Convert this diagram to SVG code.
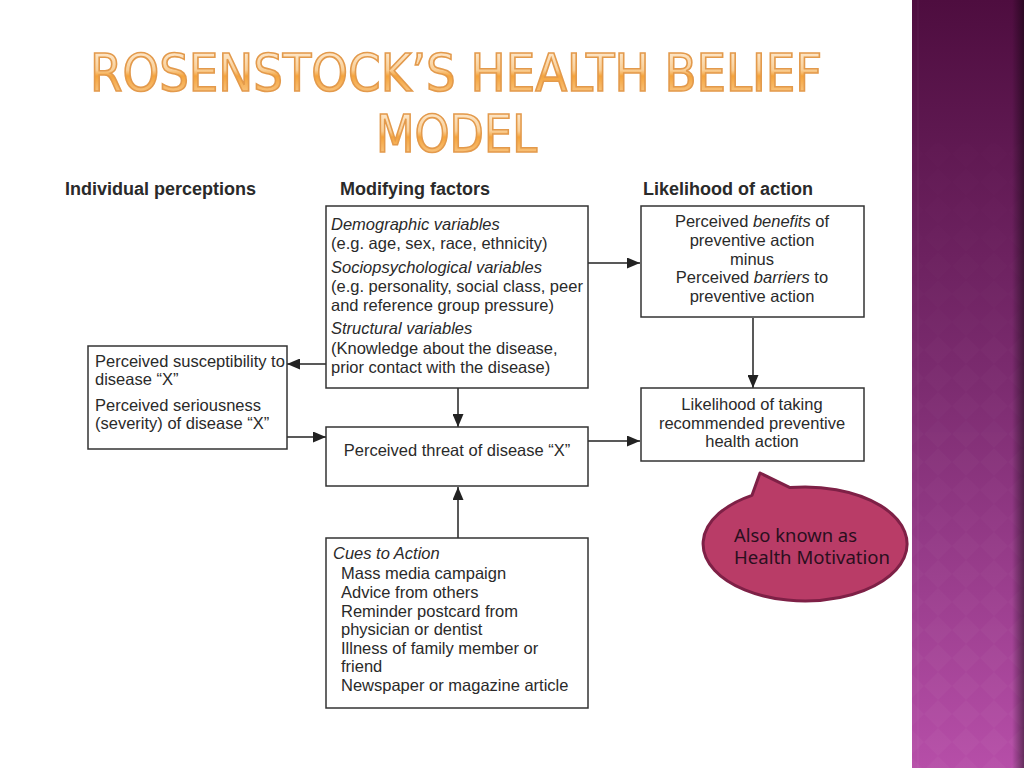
<svg xmlns="http://www.w3.org/2000/svg" width="1024" height="768" viewBox="0 0 1024 768">
<defs>
<linearGradient id="band" x1="0" y1="0" x2="0" y2="1">
<stop offset="0" stop-color="#4e0d3f"/>
<stop offset="0.5" stop-color="#7c2c70"/>
<stop offset="1" stop-color="#b64ea8"/>
</linearGradient>
<linearGradient id="shadow" x1="0" y1="0" x2="1" y2="0">
<stop offset="0" stop-color="#000" stop-opacity="0"/>
<stop offset="1" stop-color="#000" stop-opacity="0.45"/>
</linearGradient>
<linearGradient id="titleFill" x1="0" y1="0" x2="0" y2="1">
<stop offset="0" stop-color="#fff3e3"/>
<stop offset="0.45" stop-color="#f9cf97"/>
<stop offset="0.55" stop-color="#f5a43c"/>
<stop offset="1" stop-color="#fad7a8"/>
</linearGradient>
<pattern id="diamonds" width="28" height="28" patternUnits="userSpaceOnUse">
<path d="M14 0 L28 14 L14 28 L0 14 Z" fill="#ffffff" fill-opacity="0.03"/>
</pattern>
<linearGradient id="patFade" x1="0" y1="0" x2="0" y2="1">
<stop offset="0" stop-color="#fff" stop-opacity="0"/>
<stop offset="1" stop-color="#fff" stop-opacity="1"/>
</linearGradient>
<mask id="patMask"><rect x="912" y="0" width="112" height="768" fill="url(#patFade)"/></mask>
<marker id="arr" markerWidth="13" markerHeight="11" refX="13" refY="5.5" orient="auto" markerUnits="userSpaceOnUse">
<path d="M0 0 L13 5.5 L0 11 Z" fill="#222"/>
</marker>
<style>
.box{fill:#fff;stroke:#333;stroke-width:1.5}
.t{font-family:"Liberation Sans",Arial,sans-serif;font-size:16.5px;fill:#2a2a2a}
.i{font-style:italic}
.c{text-anchor:middle}
.h{font-family:"Liberation Sans",Arial,sans-serif;font-size:18px;font-weight:bold;fill:#2a2a2a}
.ln{stroke:#222;stroke-width:1.5;fill:none;marker-end:url(#arr)}
.title{font-family:"Liberation Sans Narrow","DejaVu Sans Condensed",sans-serif;font-size:52px;fill:url(#titleFill);stroke:#e39a4c;stroke-width:1.6}
.co{font-family:"Noto Sans","DejaVu Sans",sans-serif;font-size:17.5px;fill:#2a0f1e}
</style>
</defs>
<rect width="1024" height="768" fill="#fff"/>
<g id="sidebar">
<rect x="912" y="0" width="112" height="768" fill="url(#band)"/>
<rect x="912" y="0" width="112" height="768" fill="url(#diamonds)" mask="url(#patMask)"/>
<rect x="1012" y="0" width="12" height="768" fill="url(#shadow)"/>
<line x1="918" y1="0" x2="918" y2="768" stroke="#fff" stroke-opacity="0.06"/>
</g>
<g id="title">
<text class="title" x="90" y="91" textLength="732" lengthAdjust="spacingAndGlyphs">ROSENSTOCK’S HEALTH BELIEF</text>
<text class="title" x="376" y="152" textLength="161" lengthAdjust="spacingAndGlyphs">MODEL</text>
</g>
<g id="headers">
<text class="h" x="65" y="195">Individual perceptions</text>
<text class="h" x="340" y="195">Modifying factors</text>
<text class="h" x="643" y="195">Likelihood of action</text>
</g>
<g id="connectors">
<line class="ln" x1="588" y1="263" x2="640" y2="263"/>
<line class="ln" x1="753" y1="318" x2="753" y2="388"/>
<line class="ln" x1="326" y1="364" x2="287" y2="364"/>
<line class="ln" x1="458" y1="388" x2="458" y2="427"/>
<line class="ln" x1="287" y1="437" x2="326" y2="437"/>
<line class="ln" x1="588" y1="441" x2="640" y2="441"/>
<line class="ln" x1="458" y1="538" x2="458" y2="487"/>
</g>
<g id="modifying">
<rect class="box" x="326" y="206" width="262" height="182"/>
<text class="t i" x="331" y="230">Demographic variables</text>
<text class="t" x="331" y="249">(e.g. age, sex, race, ethnicity)</text>
<text class="t i" x="331" y="273">Sociopsychological variables</text>
<text class="t" x="331" y="292">(e.g. personality, social class, peer</text>
<text class="t" x="331" y="311">and reference group pressure)</text>
<text class="t i" x="331" y="334">Structural variables</text>
<text class="t" x="331" y="354">(Knowledge about the disease,</text>
<text class="t" x="331" y="373">prior contact with the disease)</text>
</g>
<g id="benefits">
<rect class="box" x="641" y="206" width="223" height="111"/>
<text class="t c" x="752" y="227">Perceived <tspan class="i">benefits</tspan> of</text>
<text class="t c" x="752" y="246">preventive action</text>
<text class="t c" x="752" y="265">minus</text>
<text class="t c" x="752" y="283">Perceived <tspan class="i">barriers</tspan> to</text>
<text class="t c" x="752" y="302">preventive action</text>
</g>
<g id="individual">
<rect class="box" x="88" y="346" width="199" height="103"/>
<text class="t" x="95" y="367">Perceived susceptibility to</text>
<text class="t" x="95" y="385">disease “X”</text>
<text class="t" x="95" y="411">Perceived seriousness</text>
<text class="t" x="95" y="429">(severity) of disease “X”</text>
</g>
<g id="threat">
<rect class="box" x="326" y="427" width="262" height="59"/>
<text class="t c" x="457" y="456">Perceived threat of disease “X”</text>
</g>
<g id="likelihood">
<rect class="box" x="641" y="388" width="223" height="73"/>
<text class="t c" x="752" y="410">Likelihood of taking</text>
<text class="t c" x="752" y="429">recommended preventive</text>
<text class="t c" x="752" y="447">health action</text>
</g>
<g id="cues">
<rect class="box" x="326" y="538" width="262" height="170"/>
<text class="t i" x="333" y="559">Cues to Action</text>
<text class="t" x="341" y="579">Mass media campaign</text>
<text class="t" x="341" y="598">Advice from others</text>
<text class="t" x="341" y="617">Reminder postcard from</text>
<text class="t" x="341" y="635">physician or dentist</text>
<text class="t" x="341" y="654">Illness of family member or</text>
<text class="t" x="341" y="672">friend</text>
<text class="t" x="341" y="691">Newspaper or magazine article</text>
</g>
<g id="callout">
<path d="M752 495.3 L760 473 L790 487.6 A102 57 0 1 1 752 495.3 Z" fill="#b93c67" stroke="#7e2046" stroke-width="3" stroke-linejoin="round"/>
<text class="co" x="734" y="542" textLength="123" lengthAdjust="spacingAndGlyphs">Also known as</text>
<text class="co" x="734" y="564" textLength="156" lengthAdjust="spacingAndGlyphs">Health Motivation</text>
</g>
</svg>
